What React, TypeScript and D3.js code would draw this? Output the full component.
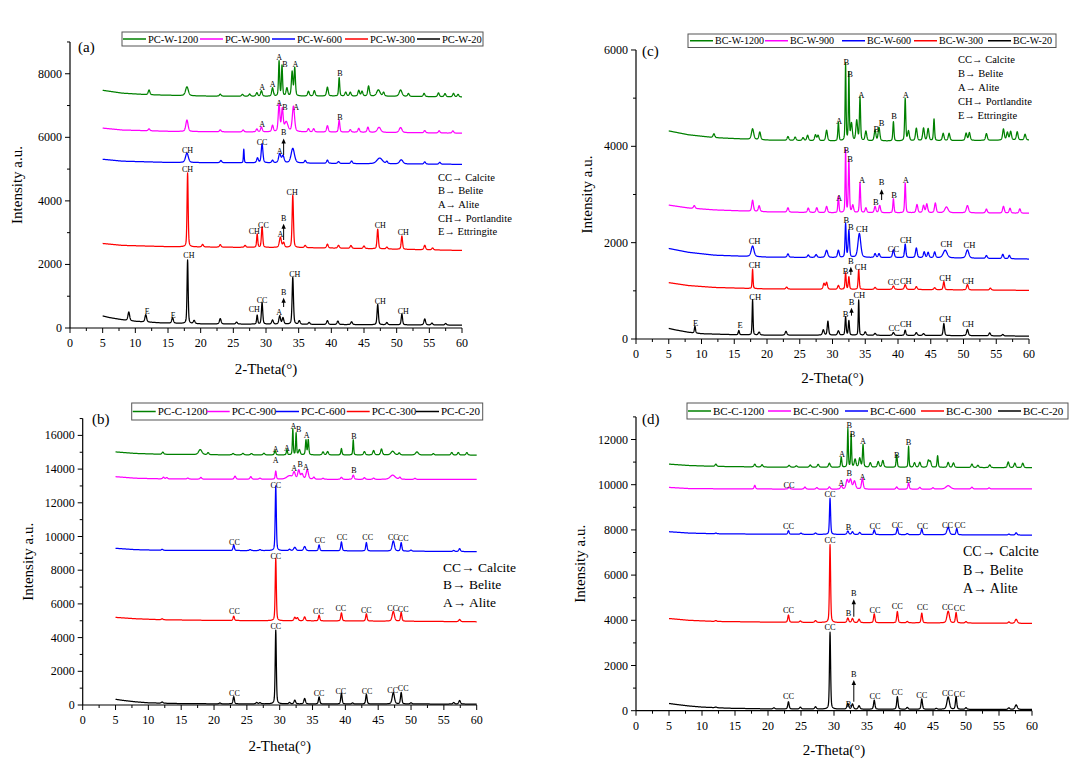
import * as d3 from "d3";

type Pt = [number, number];
type Peak = [number, number, number?]; // 2-theta, height above base, half width
type Label = [string, number, number]; // text, 2-theta, intensity of label baseline
type Arrow = [number, number, number]; // 2-theta, from, to (tip)

// ---------- panel (a): PC-W ----------
const PCW1200_BASE: Pt[] = [[5, 7480], [8, 7390], [12, 7340], [20, 7300], [30, 7290], [40, 7300], [50, 7290], [60, 7270]];
const PCW1200_PEAKS: Peak[] = [[12.1, 150], [17.9, 280, 0.25], [23.0, 60], [26.4, 60], [27.5, 70], [28.6, 110], [29.3, 170], [31.0, 260], [32.0, 1100, 0.1], [32.45, 960, 0.1], [33.2, 250], [34.0, 760, 0.13], [34.4, 880, 0.12], [36.5, 150], [37.4, 170], [39.4, 280], [41.2, 580, 0.1], [42.2, 120], [42.9, 120], [44.2, 180], [44.7, 150], [45.7, 320], [47.2, 200, 0.3], [48.0, 120], [50.6, 200, 0.25], [51.8, 90], [54.2, 100], [56.4, 120], [57.4, 100], [58.7, 110], [59.4, 80]];
const PCW900_BASE: Pt[] = [[5, 6290], [8, 6230], [15, 6190], [25, 6170], [35, 6170], [45, 6160], [60, 6130]];
const PCW900_PEAKS: Peak[] = [[12.1, 60], [17.9, 360, 0.2], [23.0, 60], [26.5, 60], [28.6, 90], [29.3, 150], [31.0, 200], [32.0, 850, 0.15], [32.5, 700, 0.15], [33.1, 300, 0.3], [34.2, 800, 0.2], [36.5, 100], [37.3, 100], [39.4, 200], [41.2, 380, 0.12], [42.9, 80], [44.2, 120], [45.6, 160], [47.3, 160, 0.3], [50.6, 160, 0.25], [54.3, 70], [56.5, 70], [58.6, 70]];
const PCW600_BASE: Pt[] = [[5, 5310], [8, 5250], [15, 5210], [25, 5200], [35, 5190], [45, 5170], [60, 5150]];
const PCW600_PEAKS: Peak[] = [[17.9, 300, 0.25], [23.1, 70], [26.6, 430, 0.07], [28.7, 150], [29.4, 600, 0.15], [31.0, 80], [32.1, 280, 0.2], [32.6, 220, 0.2], [34.1, 460, 0.3], [36.0, 80], [39.4, 100], [41.1, 60], [43.1, 80], [47.4, 180, 0.5], [48.5, 70], [50.7, 130, 0.3], [54.3, 70], [56.6, 60]];
const PCW300_BASE: Pt[] = [[5, 2660], [8, 2600], [15, 2560], [25, 2540], [35, 2530], [45, 2500], [60, 2440]];
const PCW300_PEAKS: Peak[] = [[18.0, 2330, 0.1], [20.3, 80], [23.0, 80], [26.8, 60], [28.65, 420, 0.1], [29.4, 650, 0.12], [32.2, 320, 0.18], [32.7, 150], [34.1, 1650, 0.12], [36.0, 70], [39.4, 120], [41.1, 90], [43.0, 90], [45.0, 80], [47.1, 620, 0.12], [48.5, 60], [50.8, 420, 0.12], [54.3, 140], [55.5, 60]];
const PCW20_BASE: Pt[] = [[5, 380], [6, 330], [8, 260], [10, 210], [14, 160], [20, 130], [30, 120], [40, 110], [50, 100], [60, 90]];
const PCW20_PEAKS: Peak[] = [[9.0, 270], [11.6, 230], [15.7, 170], [18.0, 2000, 0.1], [19.0, 100], [23.0, 170], [25.5, 60], [28.65, 280, 0.1], [29.4, 680, 0.12], [31.0, 130], [32.1, 260, 0.15], [32.6, 200], [34.1, 1480, 0.12], [35.1, 110], [36.6, 60], [39.4, 120], [41.0, 110], [43.1, 90], [47.1, 640, 0.12], [48.5, 70], [50.8, 340, 0.12], [54.3, 190], [55.4, 60], [57.5, 50]];
const A_LABELS: Label[] = [
  ["A", 29.4, 7490], ["A", 31.0, 7583], ["A", 32.0, 8433], ["B", 32.9, 8197], ["A", 34.5, 8197], ["B", 41.3, 7930],
  ["A", 29.4, 6310], ["A", 32.0, 6990], ["B", 32.9, 6860], ["A", 34.6, 6860], ["B", 41.3, 6545],
  ["CH", 18.0, 5522], ["CC", 29.4, 5774], ["A", 32.1, 5475], ["B", 32.7, 6060],
  ["CH", 18.0, 4909], ["CH", 28.2, 2958], ["CC", 29.6, 3162], ["A", 32.2, 2863], ["B", 32.7, 3370], ["CH", 34.0, 4200], ["CH", 47.5, 3147], ["CH", 51.0, 2926],
  ["E", 11.8, 425], ["E", 15.8, 315], ["CH", 18.2, 2187], ["CH", 28.2, 488], ["CC", 29.4, 787], ["A", 32.0, 409], ["B", 32.7, 1040], ["CH", 34.4, 1605], ["CH", 47.5, 755], ["CH", 51.0, 425],
];
const A_ARROWS: Arrow[] = [[32.7, 5443, 5960], [32.7, 2769, 3280], [32.7, 660, 950]];

// ---------- panel (b): PC-C ----------
const PCC1200_BASE: Pt[] = [[5, 15020], [8, 14930], [12, 14880], [20, 14850], [30, 14840], [40, 14840], [50, 14840], [60, 14830]];
const PCC1200_PEAKS: Peak[] = [[12.2, 130], [17.9, 300, 0.3], [19.1, 120], [22.9, 80], [24.4, 90], [25.7, 80], [27.6, 100], [29.3, 260, 0.12], [31.1, 320, 0.1], [32.0, 1550, 0.08], [32.5, 1300, 0.08], [33.0, 300], [34.0, 880, 0.1], [34.35, 900, 0.1], [36.6, 180], [37.3, 200], [39.4, 380, 0.1], [41.2, 900, 0.08], [42.9, 200], [44.3, 260], [45.5, 350], [47.2, 220, 0.3], [48.2, 120], [50.9, 180, 0.25], [53.4, 80], [56.2, 150], [57.2, 150], [58.5, 150]];
const PCC900_BASE: Pt[] = [[5, 13550], [8, 13460], [12, 13420], [20, 13400], [30, 13400], [40, 13390], [50, 13390], [60, 13390]];
const PCC900_PEAKS: Peak[] = [[12.3, 100], [12.8, 80], [16.0, 60], [18.0, 100], [23.2, 180, 0.15], [25.6, 150], [27.0, 60], [29.4, 480, 0.1], [31.5, 200, 0.5], [32.2, 380, 0.2], [32.9, 520, 0.18], [33.4, 300, 0.2], [34.2, 560, 0.2], [35.2, 120], [36.6, 60], [39.4, 120], [41.2, 250, 0.15], [42.9, 100], [44.3, 70], [47.2, 250, 0.45], [48.3, 120], [50.6, 60]];
const PCC600_BASE: Pt[] = [[5, 9300], [8, 9220], [12, 9180], [20, 9170], [30, 9160], [40, 9150], [50, 9130], [60, 9100]];
const PCC600_PEAKS: Peak[] = [[12.1, 60], [23.0, 330, 0.12], [25.5, 60], [27.0, 60], [29.4, 3850, 0.1], [31.5, 80], [32.3, 200, 0.2], [33.8, 250, 0.18], [36.0, 350, 0.12], [39.4, 530, 0.12], [43.2, 500, 0.12], [47.3, 600, 0.2], [48.5, 500, 0.12], [50.0, 60], [56.5, 60], [57.4, 170, 0.15]];
const PCC300_BASE: Pt[] = [[5, 5200], [8, 5120], [12, 5060], [20, 5020], [30, 5000], [40, 4990], [50, 4970], [60, 4940]];
const PCC300_PEAKS: Peak[] = [[12.1, 60], [23.0, 260, 0.12], [29.4, 3700, 0.1], [32.3, 200], [32.7, 180], [33.8, 230, 0.15], [36.0, 330, 0.12], [39.4, 480, 0.12], [43.2, 430, 0.12], [47.3, 580, 0.2], [48.5, 520, 0.12], [57.4, 130, 0.15]];
const PCC20_BASE: Pt[] = [[5, 340], [6, 280], [8, 190], [10, 130], [14, 90], [20, 70], [30, 65], [40, 60], [50, 60], [60, 55]];
const PCC20_PEAKS: Peak[] = [[12.1, 70], [20.9, 50], [23.0, 430, 0.12], [26.5, 80], [27.0, 70], [29.4, 4380, 0.1], [31.5, 80], [32.3, 220], [33.8, 320, 0.15], [36.0, 420, 0.12], [39.4, 640, 0.12], [41.1, 60], [43.2, 570, 0.12], [47.3, 680, 0.2], [48.5, 680, 0.12], [50.0, 70], [56.5, 90], [57.4, 210, 0.15]];
const B_LABELS: Label[] = [
  ["A", 29.4, 15015], ["A", 31.1, 15074], ["A", 32.1, 16409], ["B", 32.9, 16202], ["A", 34.1, 15875], ["B", 41.3, 15757],
  ["A", 29.4, 14362], ["A", 32.2, 13887], ["B", 33.1, 14125], ["A", 34.0, 13917], ["B", 41.3, 13739],
  ["CC", 29.4, 12878], ["CC", 23.1, 9496], ["CC", 36.1, 9585], ["CC", 39.5, 9792], ["CC", 43.4, 9792], ["CC", 47.3, 9792], ["CC", 48.8, 9733],
  ["CC", 29.4, 8665], ["CC", 23.1, 5401], ["CC", 35.9, 5430], ["CC", 39.3, 5579], ["CC", 43.2, 5460], ["CC", 47.2, 5579], ["CC", 48.8, 5519],
  ["CC", 29.4, 4481], ["CC", 23.1, 534], ["CC", 36.0, 534], ["CC", 39.3, 682], ["CC", 43.3, 682], ["CC", 47.2, 712], ["CC", 48.8, 831],
];

// ---------- panel (c): BC-W ----------
const BCW1200_BASE: Pt[] = [[5, 4320], [8, 4240], [12, 4180], [20, 4130], [30, 4110], [40, 4110], [50, 4120], [60, 4130]];
const BCW1200_PEAKS: Peak[] = [[11.9, 80], [17.8, 220, 0.2], [18.9, 160], [23.2, 80], [24.3, 70], [25.5, 60], [26.2, 110], [27.4, 120], [27.8, 110], [29.1, 220], [30.9, 380, 0.1], [32.0, 1600, 0.08], [32.5, 1400, 0.08], [32.9, 350], [33.7, 420], [34.2, 900, 0.1], [35.1, 200], [36.5, 220], [37.1, 280], [39.3, 400, 0.1], [41.1, 880, 0.1], [41.6, 200], [42.8, 260], [43.9, 260], [44.6, 250], [45.5, 450, 0.1], [46.9, 150], [47.8, 150], [50.4, 150], [50.9, 160], [53.5, 140], [56.1, 230], [56.7, 160], [57.2, 180], [58.2, 170], [59.4, 120]];
const BCW900_BASE: Pt[] = [[5, 2780], [8, 2720], [12, 2680], [20, 2640], [30, 2620], [40, 2620], [50, 2620], [60, 2610]];
const BCW900_PEAKS: Peak[] = [[8.9, 60], [17.8, 230, 0.15], [18.8, 120], [23.2, 90], [26.3, 90], [27.6, 100], [29.1, 130], [30.9, 340, 0.1], [32.0, 1300, 0.08], [32.5, 1080, 0.1], [33.1, 150], [34.2, 620, 0.1], [35.1, 100], [36.5, 130], [37.2, 150], [39.3, 290, 0.1], [41.1, 620, 0.1], [42.9, 170], [43.9, 150], [44.4, 180], [45.7, 200], [47.4, 120, 0.3], [50.6, 150, 0.2], [53.5, 80], [56.1, 140], [57.1, 100], [58.6, 90]];
const BCW600_BASE: Pt[] = [[5, 1880], [8, 1800], [12, 1740], [20, 1700], [30, 1690], [40, 1690], [50, 1680], [60, 1660]];
const BCW600_PEAKS: Peak[] = [[17.8, 220, 0.25], [23.2, 70], [26.3, 50], [27.5, 60], [29.1, 150, 0.2], [30.9, 150], [32.0, 700, 0.1], [32.5, 560, 0.12], [34.1, 500, 0.25], [36.5, 80], [37.1, 80], [39.3, 160], [41.1, 280, 0.12], [42.8, 200], [44.0, 120], [44.6, 110], [45.6, 120], [47.2, 160, 0.35], [50.6, 170, 0.25], [53.5, 60], [56.0, 90], [57.0, 70]];
const BCW300_BASE: Pt[] = [[5, 1170], [8, 1110], [12, 1070], [20, 1040], [30, 1030], [40, 1030], [50, 1020], [60, 1010]];
const BCW300_PEAKS: Peak[] = [[17.8, 400, 0.08], [23.0, 40], [28.7, 120], [29.1, 140], [30.9, 80], [32.0, 340, 0.1], [32.5, 260, 0.1], [34.0, 410, 0.1], [36.5, 40], [39.3, 70], [41.1, 100], [42.8, 60], [45.6, 40], [47.0, 170, 0.12], [50.6, 110, 0.15], [54.1, 40]];
const BCW20_BASE: Pt[] = [[5, 220], [6, 190], [8, 140], [10, 110], [15, 90], [20, 80], [30, 80], [40, 75], [50, 70], [60, 60]];
const BCW20_PEAKS: Peak[] = [[9.0, 140, 0.1], [15.7, 90, 0.1], [17.8, 730, 0.08], [18.8, 60], [22.9, 80], [28.6, 110], [29.3, 290, 0.12], [30.9, 90], [32.0, 380, 0.1], [32.5, 300, 0.1], [34.0, 730, 0.08], [35.0, 70], [36.5, 40], [39.3, 60], [41.1, 110, 0.12], [42.8, 60], [43.9, 40], [47.0, 250, 0.12], [50.6, 130, 0.15], [54.0, 60], [56.0, 30]];
const C_LABELS: Label[] = [
  ["A", 31.0, 4463], ["B", 32.1, 5688], ["B", 32.7, 5439], ["A", 34.4, 4993], ["B", 36.7, 4297], ["B", 37.5, 4422], ["B", 39.4, 4557], ["A", 41.2, 4993],
  ["A", 31.0, 2865], ["B", 32.1, 3861], ["B", 32.7, 3675], ["A", 34.5, 3239], ["B", 36.6, 2782], ["B", 37.5, 3190], ["B", 39.4, 2917], ["A", 41.2, 3239],
  ["CH", 18.1, 1972], ["B", 32.1, 2398], ["B", 32.8, 2263], ["CH", 34.5, 2211], ["CC", 39.3, 1806], ["CH", 41.2, 1983], ["CH", 47.4, 1900], ["CH", 50.9, 1879],
  ["CH", 18.1, 1474], ["B", 32.0, 1349], ["B", 32.8, 1560], ["CH", 34.3, 1432], ["CC", 39.3, 1121], ["CH", 41.2, 1152], ["CH", 47.2, 1204], ["CH", 50.7, 1152],
  ["E", 9.1, 270], ["E", 15.9, 218], ["CH", 18.2, 810], ["B", 32.0, 457], ["B", 32.9, 710], ["CH", 34.1, 841], ["CC", 39.4, 166], ["CH", 41.2, 239], ["CH", 47.2, 353], ["CH", 50.7, 239],
];
const C_ARROWS: Arrow[] = [[37.5, 2885, 3110], [32.8, 1329, 1500], [32.9, 484, 650]];

// ---------- panel (d): BC-C ----------
const BCC1200_BASE: Pt[] = [[5, 10910], [8, 10850], [12, 10810], [20, 10780], [30, 10770], [40, 10770], [50, 10760], [60, 10750]];
const BCC1200_PEAKS: Peak[] = [[12.1, 100], [18.0, 120], [19.1, 100], [23.2, 80], [24.3, 60], [26.4, 100], [27.6, 130], [29.3, 180], [31.1, 450, 0.1], [32.1, 1700, 0.08], [32.6, 1450, 0.08], [33.2, 350], [33.9, 400], [34.4, 1000, 0.1], [35.5, 200], [36.7, 250], [37.4, 300], [39.5, 560, 0.1], [41.3, 930, 0.08], [42.2, 200], [43.0, 220], [44.3, 300], [44.6, 250], [45.7, 520, 0.1], [47.3, 220], [48.1, 200], [50.9, 150], [51.8, 100], [53.6, 120], [56.4, 250], [57.4, 200], [58.6, 200]];
const BCC900_BASE: Pt[] = [[5, 9880], [8, 9830], [12, 9820], [20, 9810], [30, 9800], [40, 9800], [50, 9810], [60, 9810]];
const BCC900_PEAKS: Peak[] = [[18.0, 160, 0.12], [23.2, 80], [25.6, 90], [27.4, 70], [29.3, 100], [31.1, 150], [32.0, 400, 0.2], [32.5, 420, 0.2], [33.1, 350, 0.2], [34.3, 470, 0.15], [39.5, 100], [41.3, 280, 0.12], [43.0, 80], [45.0, 60], [47.3, 150, 0.4], [50.9, 80], [53.5, 50]];
const BCC600_BASE: Pt[] = [[5, 7920], [8, 7860], [12, 7830], [20, 7810], [30, 7800], [40, 7790], [50, 7780], [60, 7770]];
const BCC600_PEAKS: Peak[] = [[12.1, 30], [23.1, 160, 0.12], [25.0, 50], [27.2, 60], [29.4, 1600, 0.1], [32.1, 150], [32.8, 120], [33.9, 90], [36.1, 210, 0.12], [39.6, 300, 0.12], [41.1, 50], [43.3, 260, 0.12], [47.3, 330, 0.22], [48.6, 280, 0.12], [56.5, 40], [57.6, 100, 0.15]];
const BCC300_BASE: Pt[] = [[5, 4080], [8, 4000], [12, 3950], [20, 3920], [30, 3900], [40, 3890], [50, 3880], [60, 3860]];
const BCC300_PEAKS: Peak[] = [[12.1, 40], [23.1, 320, 0.12], [24.9, 60], [27.2, 80], [29.4, 3450, 0.1], [32.1, 200], [32.8, 180], [33.8, 150], [36.1, 390, 0.12], [39.6, 500, 0.12], [41.1, 60], [43.3, 430, 0.12], [47.3, 520, 0.22], [48.5, 460, 0.12], [50.0, 60], [56.5, 60], [57.6, 180, 0.2]];
const BCC20_BASE: Pt[] = [[5, 320], [6, 280], [8, 210], [10, 160], [14, 110], [20, 80], [30, 70], [40, 65], [50, 60], [60, 55]];
const BCC20_PEAKS: Peak[] = [[12.1, 30], [20.9, 50], [23.1, 320, 0.12], [24.9, 80], [27.2, 100], [29.4, 3400, 0.1], [32.1, 250], [32.8, 230], [33.8, 150], [36.1, 400, 0.12], [39.6, 560, 0.12], [41.1, 80], [43.3, 460, 0.12], [45.5, 40], [47.3, 550, 0.22], [48.5, 560, 0.12], [50.0, 70], [56.5, 70], [57.6, 200, 0.2]];
const D_LABELS: Label[] = [
  ["A", 31.2, 11226], ["B", 32.3, 12487], ["B", 32.8, 12111], ["A", 34.4, 11779], ["B", 39.5, 11181], ["B", 41.3, 11735],
  ["CC", 23.2, 9876], ["A", 31.1, 9942], ["B", 32.3, 10407], ["A", 34.3, 10230], ["B", 41.3, 10075],
  ["CC", 29.4, 9434], ["CC", 23.1, 8018], ["B", 32.2, 7996], ["CC", 36.2, 8018], ["CC", 39.6, 8062], ["CC", 43.4, 8040], ["CC", 47.2, 8062], ["CC", 49.1, 8062],
  ["CC", 29.4, 7420], ["CC", 23.1, 4301], ["B", 32.2, 4190], ["B", 33.0, 5075], ["CC", 36.2, 4323], ["CC", 39.6, 4478], ["CC", 43.4, 4456], ["CC", 47.2, 4456], ["CC", 49.0, 4411],
  ["CC", 29.4, 3571], ["CC", 23.1, 518], ["B", 32.2, 142], ["B", 33.0, 1491], ["CC", 36.2, 518], ["CC", 39.6, 673], ["CC", 43.3, 584], ["CC", 47.2, 650], ["CC", 49.0, 606],
];
const D_ARROWS: Arrow[] = [[33.0, 4159, 4930], [33.0, 398, 1360]];

const COLORS = ["#008000", "#ff00ff", "#0000ff", "#ff0000", "#000000"];
const PHASES5 = ["CC\u2192 Calcite", "B\u2192 Belite", "A\u2192 Alite", "CH\u2192 Portlandite", "E\u2192 Ettringite"];
const PHASES3 = ["CC\u2192 Calcite", "B\u2192 Belite", "A\u2192 Alite"];

const FONT = "Liberation Serif, Times New Roman, Times, DejaVu Serif, serif";

type Series = { name: string; base: Pt[]; peaks: Peak[] };

const panels = [
  {
    tag: "(a)", x0: 70, x1: 462, yb: 328, ymax: 9000, pxPerK: 31.78,
    series: [
      { name: "PC-W-1200", base: PCW1200_BASE, peaks: PCW1200_PEAKS },
      { name: "PC-W-900", base: PCW900_BASE, peaks: PCW900_PEAKS },
      { name: "PC-W-600", base: PCW600_BASE, peaks: PCW600_PEAKS },
      { name: "PC-W-300", base: PCW300_BASE, peaks: PCW300_PEAKS },
      { name: "PC-W-20", base: PCW20_BASE, peaks: PCW20_PEAKS },
    ],
    labels: A_LABELS, arrows: A_ARROWS, labelFont: 8,
    legend: { x: 122, y: 32, w: 361, h: 14, font: 10.5, items: [123, 200, 272, 345, 417] },
    phases: PHASES5, phX: 438, phY: 180.5, phDy: 13.7, phFont: 10.5,
    tagX: 78, tagY: 52, xTitleY: 374, yTitleX: 22,
  },
  {
    tag: "(b)", x0: 82.7, x1: 476.7, yb: 705, ymax: 17000, pxPerK: 16.85,
    series: [
      { name: "PC-C-1200", base: PCC1200_BASE, peaks: PCC1200_PEAKS },
      { name: "PC-C-900", base: PCC900_BASE, peaks: PCC900_PEAKS },
      { name: "PC-C-600", base: PCC600_BASE, peaks: PCC600_PEAKS },
      { name: "PC-C-300", base: PCC300_BASE, peaks: PCC300_PEAKS },
      { name: "PC-C-20", base: PCC20_BASE, peaks: PCC20_PEAKS },
    ],
    labels: B_LABELS, arrows: [] as Arrow[], labelFont: 8,
    legend: { x: 131.7, y: 403, w: 351, h: 17, font: 11, items: [132.7, 206.7, 276, 346.7, 416] },
    phases: PHASES3, phX: 443, phY: 571.5, phDy: 17.5, phFont: 13.5,
    tagX: 92, tagY: 424, xTitleY: 751, yTitleX: 33,
  },
  {
    tag: "(c)", x0: 636, x1: 1029, yb: 339, ymax: 6000, pxPerK: 48.17,
    series: [
      { name: "BC-W-1200", base: BCW1200_BASE, peaks: BCW1200_PEAKS },
      { name: "BC-W-900", base: BCW900_BASE, peaks: BCW900_PEAKS },
      { name: "BC-W-600", base: BCW600_BASE, peaks: BCW600_PEAKS },
      { name: "BC-W-300", base: BCW300_BASE, peaks: BCW300_PEAKS },
      { name: "BC-W-20", base: BCW20_BASE, peaks: BCW20_PEAKS },
    ],
    labels: C_LABELS, arrows: C_ARROWS, labelFont: 8.5,
    legend: { x: 688, y: 34, w: 368, h: 13.5, font: 10, items: [690, 765, 842, 914, 988] },
    phases: PHASES5, phX: 958, phY: 63, phDy: 14, phFont: 10.5,
    tagX: 642, tagY: 56, xTitleY: 383, yTitleX: 592,
  },
  {
    tag: "(d)", x0: 636, x1: 1032, yb: 710.7, ymax: 13000, pxPerK: 22.6,
    series: [
      { name: "BC-C-1200", base: BCC1200_BASE, peaks: BCC1200_PEAKS },
      { name: "BC-C-900", base: BCC900_BASE, peaks: BCC900_PEAKS },
      { name: "BC-C-600", base: BCC600_BASE, peaks: BCC600_PEAKS },
      { name: "BC-C-300", base: BCC300_BASE, peaks: BCC300_PEAKS },
      { name: "BC-C-20", base: BCC20_BASE, peaks: BCC20_PEAKS },
    ],
    labels: D_LABELS, arrows: D_ARROWS, labelFont: 8.3,
    legend: { x: 687, y: 403, w: 381, h: 16, font: 11, items: [688, 768, 845, 921, 998] },
    phases: PHASES3, phX: 963, phY: 556, phDy: 18.7, phFont: 14,
    tagX: 642, tagY: 424, xTitleY: 755, yTitleX: 585,
  },
];

// pattern = smooth background + pseudo-Voigt peaks
function pattern(s: Series): Pt[] {
  const bg = d3.scaleLinear().domain(s.base.map((d) => d[0])).range(s.base.map((d) => d[1]));
  return d3.range(5, 60.0001, 0.025).map((t) => {
    let v = bg(t);
    for (const [p, h, w = 0.15] of s.peaks) {
      const u = (t - p) / w;
      if (Math.abs(u) > 60) continue;
      v += h * (0.4 / (1 + u * u) + 0.6 * Math.exp(-0.693 * u * u));
    }
    return [t, v] as Pt;
  });
}

function Panel({ p }: { p: (typeof panels)[number] }) {
  const x = d3.scaleLinear().domain([0, 60]).range([p.x0, p.x1]);
  const yt = p.yb - (p.ymax / 1000) * p.pxPerK;
  const y = d3.scaleLinear().domain([0, p.ymax]).range([p.yb, yt]);
  const line = d3.line<Pt>().x((d) => x(d[0])).y((d) => y(d[1]));
  const majY = d3.range(0, p.ymax + 1, 2000);
  const minY = d3.range(1000, p.ymax + 1, 2000);
  const majX = d3.range(0, 61, 5);
  const minX = d3.range(2.5, 60, 5);
  const order = [4, 3, 2, 1, 0];
  return (
    <g style={{ fontFamily: FONT }}>
      {order.map((i) => (
        <path key={i} d={line(pattern(p.series[i])) || ""} fill="none" stroke={COLORS[i]} strokeWidth={1.25} strokeLinejoin="round" />
      ))}
      {/* axes */}
      <line x1={p.x0} x2={p.x1} y1={p.yb} y2={p.yb} stroke="#000" strokeWidth={1.2} />
      <line x1={p.x0} x2={p.x0} y1={p.yb} y2={yt} stroke="#000" strokeWidth={1.2} />
      {majX.map((t) => (
        <g key={"mx" + t}>
          <line x1={x(t)} x2={x(t)} y1={p.yb} y2={p.yb + 5} stroke="#000" />
          <text x={x(t)} y={p.yb + 19} fontSize={12} textAnchor="middle">{t}</text>
        </g>
      ))}
      {minX.map((t) => (
        <line key={"nx" + t} x1={x(t)} x2={x(t)} y1={p.yb} y2={p.yb + 3} stroke="#000" />
      ))}
      {majY.map((v) => (
        <g key={"my" + v}>
          <line x1={p.x0 - 5} x2={p.x0} y1={y(v)} y2={y(v)} stroke="#000" />
          <text x={p.x0 - 8} y={y(v) + 4} fontSize={12} textAnchor="end">{v}</text>
        </g>
      ))}
      {minY.map((v) => (
        <line key={"ny" + v} x1={p.x0 - 3} x2={p.x0} y1={y(v)} y2={y(v)} stroke="#000" />
      ))}
      <text x={(p.x0 + p.x1) / 2} y={p.xTitleY} fontSize={15} textAnchor="middle">2-Theta(°)</text>
      <text transform={`translate(${p.yTitleX},${(p.yb + yt) / 2}) rotate(-90)`} fontSize={15} textAnchor="middle">Intensity a.u.</text>
      <text x={p.tagX} y={p.tagY} fontSize={15}>{p.tag}</text>
      {/* peak labels */}
      {p.labels.map(([s, t, v], i) => (
        <text key={"l" + i} x={x(t)} y={y(v)} fontSize={p.labelFont} textAnchor="middle">{s}</text>
      ))}
      {p.arrows.map(([t, a, b], i) => (
        <g key={"a" + i}>
          <line x1={x(t)} x2={x(t)} y1={y(a)} y2={y(b) + 4} stroke="#000" strokeWidth={1} />
          <path d={`M${x(t)},${y(b)}L${x(t) - 2.2},${y(b) + 5}L${x(t) + 2.2},${y(b) + 5}Z`} fill="#000" />
        </g>
      ))}
      {/* phase key */}
      {p.phases.map((s, i) => (
        <text key={"ph" + i} x={p.phX} y={p.phY + i * p.phDy} fontSize={p.phFont}>{s}</text>
      ))}
      {/* legend */}
      <rect x={p.legend.x} y={p.legend.y} width={p.legend.w} height={p.legend.h} fill="#fff" stroke="#555" strokeWidth={1} />
      {p.series.map((s, i) => {
        const lx = p.legend.items[i];
        const cy = p.legend.y + p.legend.h / 2;
        return (
          <g key={"lg" + i}>
            <line x1={lx} x2={lx + 23} y1={cy} y2={cy} stroke={COLORS[i]} strokeWidth={1.5} />
            <text x={lx + 25} y={cy + p.legend.font * 0.35} fontSize={p.legend.font}>{s.name}</text>
          </g>
        );
      })}
    </g>
  );
}

export default function App() {
  return (
    <svg width={1077} height={764} style={{ position: "absolute", left: 0, top: 0, background: "#fff" }}>
      <rect width={1077} height={764} fill="#fff" />
      {panels.map((p) => (
        <Panel key={p.tag} p={p} />
      ))}
    </svg>
  );
}
